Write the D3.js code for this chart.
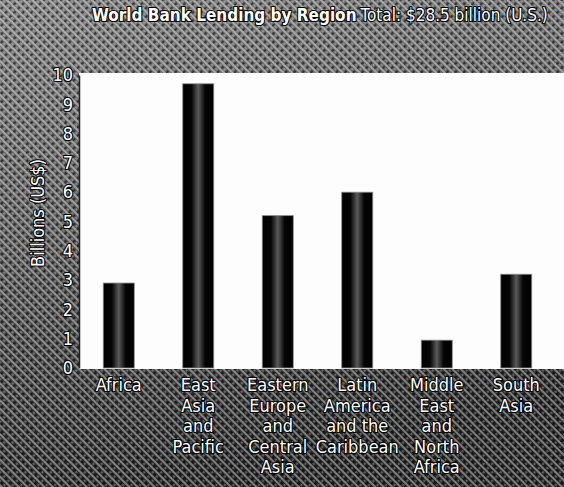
<!DOCTYPE html>
<html>
<head>
<meta charset="utf-8">
<script src="https://d3js.org/d3.v7.min.js"></script>
<style>
  body { margin: 0; background: #fff; }
  svg text { font-family: "Liberation Sans Narrow", "Arial Narrow", "DejaVu Sans Condensed", sans-serif; }
</style>
</head>
<body>
<script>
// regions and lending, billions of US$
var regions = ["Africa", "East Asia and Pacific", "Eastern Europe and Central Asia",
               "Latin America and the Caribbean", "Middle East and North Africa", "South Asia"];
var regionLines = [["Africa"], ["East", "Asia", "and", "Pacific"], ["Eastern", "Europe", "and", "Central", "Asia"],
                   ["Latin", "America", "and the", "Caribbean"], ["Middle", "East", "and", "North", "Africa"],
                   ["South", "Asia"]];
var lending = [2.9, 9.7, 5.2, 6.0, 0.95, 3.2];
var yTicks = [0, 1, 2, 3, 4, 5, 6, 7, 8, 9, 10];

var W = 564, H = 487;
var plot = {left: 79, right: 564, top: 73, bottom: 369};

var svg = d3.select("body").append("svg")
            .attr("width", W)
            .attr("height", H);

var defs = svg.append("defs");

// dithered background texture
var pat = defs.append("pattern")
              .attr("id", "dither")
              .attr("width", 6)
              .attr("height", 6)
              .attr("patternUnits", "userSpaceOnUse")
              .attr("patternTransform", "rotate(45)");
pat.append("rect").attr("width", 6).attr("height", 2).attr("fill", "#fff").attr("opacity", 0.4);
pat.append("rect").attr("y", 3).attr("width", 2).attr("height", 3).attr("fill", "#000").attr("opacity", 0.5);
pat.append("rect").attr("x", 3).attr("y", 3).attr("width", 2).attr("height", 2).attr("fill", "#fff").attr("opacity", 0.25);

var bgGrad = defs.append("linearGradient")
                 .attr("id", "bgGrad")
                 .attr("x1", 0).attr("y1", 0).attr("x2", 0.25).attr("y2", 1);
bgGrad.append("stop").attr("offset", "0%").attr("stop-color", "#7c7c7c");
bgGrad.append("stop").attr("offset", "45%").attr("stop-color", "#5a5a5a");
bgGrad.append("stop").attr("offset", "100%").attr("stop-color", "#262626");

var barGrad = defs.append("linearGradient")
                  .attr("id", "barGrad")
                  .attr("x1", 0).attr("y1", 0).attr("x2", 1).attr("y2", 0);
barGrad.append("stop").attr("offset", "0%").attr("stop-color", "#000");
barGrad.append("stop").attr("offset", "28%").attr("stop-color", "#050505");
barGrad.append("stop").attr("offset", "50%").attr("stop-color", "#5a5a5a");
barGrad.append("stop").attr("offset", "72%").attr("stop-color", "#050505");
barGrad.append("stop").attr("offset", "100%").attr("stop-color", "#000");

svg.append("rect")
   .attr("width", W).attr("height", H)
   .attr("fill", "url(#bgGrad)");
svg.append("rect")
   .attr("width", W).attr("height", H)
   .attr("fill", "url(#dither)");

// plot area
svg.append("rect")
   .attr("x", plot.left)
   .attr("y", plot.top)
   .attr("width", plot.right - plot.left)
   .attr("height", plot.bottom - plot.top)
   .attr("fill", "#fdfdfd");

var xScale = d3.scaleBand()
               .domain(regions)
               .range([79, 556])
               .paddingInner(0.61)
               .paddingOuter(0.305);

var yScale = d3.scaleLinear()
               .domain([0, 10])
               .range([368, 75]);

svg.selectAll(".bar")
   .data(lending)
   .enter()
   .append("rect")
   .attr("class", "bar")
   .attr("x", function(d, i) { return xScale(regions[i]); })
   .attr("y", function(d) { return yScale(d); })
   .attr("width", xScale.bandwidth())
   .attr("height", function(d) { return yScale(0) - yScale(d); })
   .attr("fill", "url(#barGrad)")
   .attr("stroke", "#8a8a8a")
   .attr("stroke-width", 0.8);

function outlined(sel) {
  sel.attr("fill", "#fff")
     .attr("stroke", "#000")
     .attr("stroke-width", 2.2)
     .attr("paint-order", "stroke")
     .attr("stroke-linejoin", "round");
}

// y axis
var yAxis = svg.append("g")
               .attr("transform", "translate(" + plot.left + ",0)")
               .call(d3.axisLeft(yScale).tickValues(yTicks).tickSize(0).tickPadding(6));
yAxis.select(".domain").attr("stroke", "#222").attr("stroke-width", 1.5);
yAxis.selectAll("text")
     .attr("font-size", 18)
     .attr("font-family", null)
     .call(outlined);

svg.append("text")
   .attr("transform", "translate(44,213) rotate(-90)")
   .attr("text-anchor", "middle")
   .attr("font-size", 18)
   .text("Billions (US$)")
   .call(outlined);

// category labels
var labels = svg.selectAll(".cat")
                .data(regionLines)
                .enter()
                .append("text")
                .attr("class", "cat")
                .attr("text-anchor", "middle")
                .attr("font-size", 18)
                .call(outlined);

labels.selectAll("tspan")
      .data(function(d, i) { return d.map(function(s) { return {s: s, i: i}; }); })
      .enter()
      .append("tspan")
      .attr("x", function(d) { return xScale(regions[d.i]) + xScale.bandwidth() / 2; })
      .attr("y", function(d, j) { return 391 + j * 20.5; })
      .text(function(d) { return d.s; });

// title
var title = svg.append("text")
               .attr("x", 92)
               .attr("y", 21)
               .attr("font-size", 17)
               .call(outlined);
title.append("tspan").attr("font-weight", "bold").text("World Bank Lending by Region");
title.append("tspan").attr("dx", 4).text("Total: $28.5 billion (U.S.)");
</script>
</body>
</html>
